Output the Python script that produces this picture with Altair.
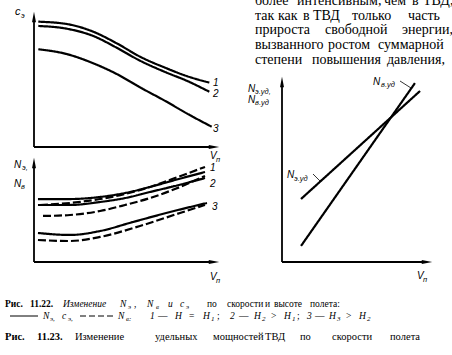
import altair as alt
import pandas as pd

# ---------------- data (arbitrary units 0..10) ----------------
# Panel 1: c_e versus V_n, curves 1,2,3
V_CE = [0.24, 1.82, 3.29, 4.59, 5.89, 7.37, 8.48, 9.74]
CE_1 = [9.64, 9.46, 8.87, 7.98, 6.95, 6.05, 5.46, 4.95]
CE_2 = [9.31, 9.10, 8.54, 7.64, 6.64, 5.72, 5.10, 4.25]
V_CE3 = [0.24, 1.82, 3.29, 4.59, 5.89, 7.37, 8.48, 9.87]
CE_3 = [7.52, 7.15, 6.44, 5.62, 4.59, 3.48, 2.59, 1.56]

# Panel 2: N_e (solid) and N_v (dashed) versus V_n
V_N = [0.22, 2.0, 3.67, 5.06, 6.44, 7.83, 9.5]
NE_1 = [6.36, 6.36, 6.57, 6.97, 7.58, 8.28, 9.09]
NE_2 = [5.76, 5.76, 6.06, 6.46, 7.07, 7.68, 8.48]
V_NV1 = [0.33, 2.0, 3.67, 5.06, 6.44, 7.83, 9.5]
NV_1 = [5.76, 5.96, 6.36, 6.87, 7.58, 8.48, 9.6]
V_NV2 = [0.5, 2.0, 3.67, 5.06, 6.44, 7.83, 9.5]
NV_2 = [4.65, 4.75, 5.15, 5.76, 6.46, 7.37, 8.69]
V_NE3 = [0.22, 2.0, 3.67, 5.5, 7.56, 9.61]
NE_3 = [2.93, 2.73, 3.13, 4.04, 5.05, 5.96]
V_NV3 = [0.22, 2.0, 3.67, 5.89, 8.11, 9.5]
NV_3 = [2.22, 2.12, 2.53, 3.64, 4.95, 5.76]

# Panel 3: specific powers versus V_n
V_NVUD = [1.31, 9.17]
NV_UD = [0.89, 9.94]
V_NEUD = [1.31, 9.52]
NE_UD = [3.5, 9.5]

# ---------------- texts ----------------
PARA = [
    ["более", "интенсивным,", "чем", "в", "ТВД,"],
    ["так", "как", "в", "ТВД", "только", "часть"],
    ["прироста", "свободной", "энергии,"],
    ["вызванного", "ростом", "суммарной"],
    ["степени", "повышения", "давления,"],
]
PARA_X = [
    [255, 297, 384, 412, 423],
    [255, 278, 303, 313, 352, 408],
    [255, 325, 402],
    [255, 328, 378],
    [255, 312, 387],
]
PARA_Y = [5, 20, 34, 49, 64]

SERIF = "Liberation Serif"
SANS = "Liberation Sans"


def long_df(pairs):
    rows = []
    for name, style, xs, ys in pairs:
        for x, y in zip(xs, ys):
            rows.append({"x": x, "y": y, "series": name, "style": style})
    return pd.DataFrame(rows)


def panel(df, xr, yr):
    xs = alt.Scale(domain=[0, 10], range=xr, nice=False, zero=False)
    ys = alt.Scale(domain=[0, 10], range=yr, nice=False, zero=False)
    X = alt.X("x:Q", scale=xs, axis=None)
    Y = alt.Y("y:Q", scale=ys, axis=None)
    lines = alt.Chart(df).mark_line(color="black", strokeWidth=2.2, interpolate="monotone").encode(
        x=X, y=Y, detail="series:N",
        strokeDash=alt.StrokeDash("style:N", scale=alt.Scale(domain=["solid", "dashed"], range=[[1, 0], [8, 3]]), legend=None),
    )
    ax = pd.DataFrame({"x": [0, 0], "y": [0, 0], "x2": [10, 0], "y2": [0, 10]})
    axes = alt.Chart(ax).mark_rule(color="black", strokeWidth=1.8).encode(x=X, y=Y, x2="x2:Q", y2="y2:Q")
    ar = alt.Chart(pd.DataFrame({"x": [10], "y": [0]})).mark_point(
        shape="M-1,-0.38L1,0L-1,0.38Z", filled=True, color="black", size=110, opacity=1, strokeWidth=0
    ).encode(x=X, y=Y)
    au = alt.Chart(pd.DataFrame({"x": [0], "y": [10]})).mark_point(
        shape="M-0.38,1L0,-1L0.38,1Z", filled=True, color="black", size=110, opacity=1, strokeWidth=0
    ).encode(x=X, y=Y)
    return alt.layer(lines, axes, ar, au)


dfA = long_df([("1", "solid", V_CE, CE_1), ("2", "solid", V_CE, CE_2), ("3", "solid", V_CE3, CE_3)])
dfB = long_df([
    ("e1", "solid", V_N, NE_1), ("e2", "solid", V_N, NE_2), ("e3", "solid", V_NE3, NE_3),
    ("v1", "dashed", V_NV1, NV_1), ("v2", "dashed", V_NV2, NV_2), ("v3", "dashed", V_NV3, NV_3),
])
dfC = long_df([("v", "solid", V_NVUD, NV_UD), ("e", "solid", V_NEUD, NE_UD)])

pA = panel(dfA, [34, 214], [147, 17])
pB = panel(dfB, [34, 214], [262, 163])
pC = panel(dfC, [282, 427], [262, 82])


def texts(items, font, style="normal", weight="normal"):
    df = pd.DataFrame(items, columns=["t", "x", "y", "s"])
    return alt.Chart(df).mark_text(align="left", baseline="alphabetic", font=font,
                                   fontStyle=style, fontWeight=weight, color="black").encode(
        text="t:N",
        x=alt.X("x:Q", scale=None, axis=None),
        y=alt.Y("y:Q", scale=None, axis=None),
        size=alt.Size("s:Q", scale=None, legend=None),
    )


# paragraph
para_items = []
for words, xs, y in zip(PARA, PARA_X, PARA_Y):
    for w, x in zip(words, xs):
        para_items.append((w, x, y, 14))

# axis / curve labels (italic sans)
lab_main = [
    ("c", 15, 15, 11), ("V", 210, 159, 10),
    ("1", 213, 86, 10), ("2", 213, 97, 10), ("3", 213, 132, 10),
    ("N", 14, 168, 10), ("N", 14, 187, 10), ("V", 210, 280, 10),
    ("1", 210, 171, 10), ("2", 210, 187, 10), ("3", 212, 210, 10),
    ("N", 248, 92, 10), ("N", 248, 103, 10), ("V", 417, 279, 10),
    ("N", 373, 85, 10), ("N", 287, 178, 10),
]
lab_sub = [
    ("э", 21, 18, 7.5), ("п", 216, 162, 7.5),
    ("э,", 22, 170, 7.5), ("в", 21, 189, 7.5), ("п", 216, 283, 7.5),
    ("э.уд,", 255, 94, 7.5), ("в.уд", 255, 105, 7.5), ("п", 423, 282, 7.5),
    ("в.уд", 381, 87, 7.5), ("э.уд", 294, 181, 7.5),
]

# captions
C1 = 9.5
C3 = 10.5
SUB = 7
cap_bold = [("Рис.", 5, 307, C1), ("11.22.", 30, 307, C1),
            ("Рис.", 5, 340, C3), ("11.23.", 37, 340, C3)]
cap_reg = [
    ("по", 207, 307, C1), ("скорости", 227, 307, C1), ("и", 265, 307, C1),
    ("высоте", 274, 307, C1), ("полета:", 310, 307, C1), (",", 134, 307, C1),
    ("—", 158, 319, C1), ("=", 189, 319, C1), (";", 217, 319, C1),
    ("—", 239, 319, C1), (">", 271, 319, C1), (";", 297, 319, C1),
    ("—", 315, 319, C1), (">", 346, 319, C1),
    ("Изменение", 75, 340, C3), ("удельных", 155, 340, C3), ("мощностей", 213, 340, C3),
    ("ТВД", 265, 340, C3), ("по", 300, 340, C3), ("скорости", 332, 340, C3), ("полета", 390, 340, C3),
]
cap_it = [
    ("Изменение", 63, 307, C1), ("N", 120, 307, C1), ("N", 147, 307, C1),
    ("и", 168, 307, C1), ("c", 180, 307, C1),
    ("N", 43, 319, C1), ("c", 62, 319, C1), ("N", 118, 319, C1), ("1", 150, 319, C1),
    ("H", 175, 319, C1), ("H", 203, 319, C1), ("2", 230, 319, C1), ("H", 254, 319, C1),
    ("H", 284, 319, C1), ("3", 307, 319, C1), ("H", 329, 319, C1), ("H", 359, 319, C1),
]
cap_sub = [
    ("э", 128, 309, SUB), ("в", 156, 309, SUB), ("э", 186, 309, SUB),
    ("э,", 50, 321, SUB), ("э,", 68, 321, SUB), ("в:", 126, 321, SUB), ("1", 211, 321, SUB),
    ("2", 262, 321, SUB), ("1", 292, 321, SUB), ("3", 337, 321, SUB), ("2", 367, 321, SUB),
]

# leader lines and caption line-style keys
leaders = alt.Chart(pd.DataFrame({"x": [400, 313], "y": [81, 174], "x2": [411, 320], "y2": [88, 181]})).mark_rule(
    color="black", strokeWidth=0.8).encode(
    x=alt.X("x:Q", scale=None, axis=None), y=alt.Y("y:Q", scale=None, axis=None), x2="x2:Q", y2="y2:Q")
key_solid = alt.Chart(pd.DataFrame({"x": [10], "y": [316], "x2": [38]})).mark_rule(color="black", strokeWidth=1).encode(
    x=alt.X("x:Q", scale=None, axis=None), y=alt.Y("y:Q", scale=None, axis=None), x2="x2:Q")
key_dash = alt.Chart(pd.DataFrame({"x": [80], "y": [316], "x2": [115]})).mark_rule(
    color="black", strokeWidth=1, strokeDash=[6, 3]).encode(
    x=alt.X("x:Q", scale=None, axis=None), y=alt.Y("y:Q", scale=None, axis=None), x2="x2:Q")

chart = alt.layer(
    pA, pB, pC,
    leaders, key_solid, key_dash,
    texts(para_items, SERIF),
    texts(lab_main, SANS, "italic"),
    texts(lab_sub, SANS, "italic"),
    texts(cap_bold, SERIF, "normal", "bold"),
    texts(cap_reg, SERIF),
    texts(cap_it, SERIF, "italic"),
    texts(cap_sub, SERIF, "italic"),
).resolve_scale(x="independent", y="independent", strokeDash="independent").properties(
    width=452, height=355, padding=0,
    autosize=alt.AutoSizeParams(type="none"),
    background="white",
).configure_view(stroke=None)

chart.save("out.html", embed_options={"renderer": "svg", "actions": False})
